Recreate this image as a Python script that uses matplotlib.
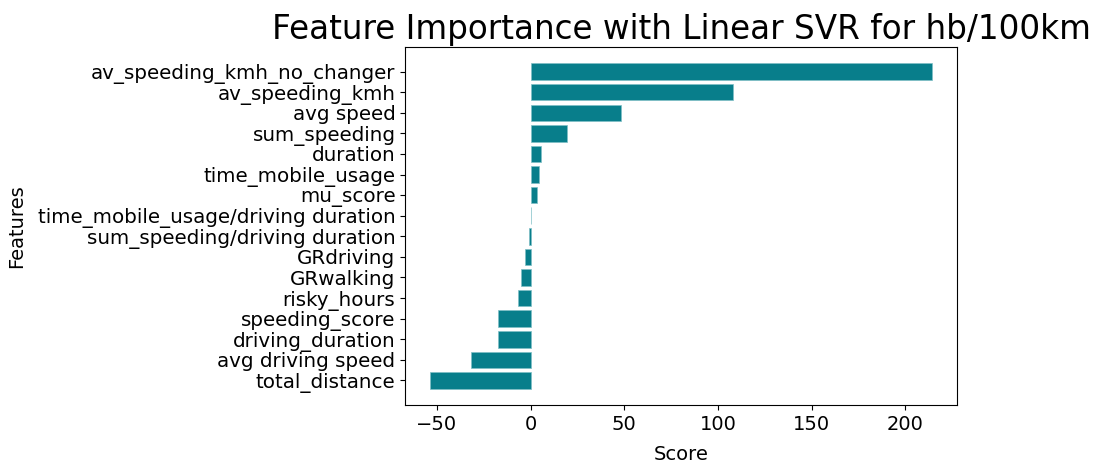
import matplotlib
matplotlib.use("Agg")
import matplotlib.pyplot as plt

features = [
    "total_distance", "avg driving speed", "driving_duration", "speeding_score",
    "risky_hours", "GRwalking", "GRdriving", "sum_speeding/driving duration",
    "time_mobile_usage/driving duration", "mu_score", "time_mobile_usage",
    "duration", "sum_speeding", "avg speed", "av_speeding_kmh",
    "av_speeding_kmh_no_changer",
]
scores = [
    -53.6, -31.6, -17.6, -17.6,
    -6.9, -5.3, -2.8, -1.0,
    0.3, 3.6, 4.3,
    5.3, 19.4, 48.4, 108.1,
    214.4,
]

fig = plt.figure(figsize=(10.98, 4.66), dpi=100)
ax = fig.add_axes([0.369, 0.131, 0.503, 0.768])
ax.barh(features, scores, color="#087E8B", edgecolor="#7fbfc6", linewidth=0.5)
ax.tick_params(axis="y", labelsize=14.3)
ax.tick_params(axis="x", labelsize=14)
ax.set_xlabel("Score", fontsize=14, labelpad=8)
ax.set_ylabel("Features", fontsize=14, labelpad=8)
ax.set_title("Feature Importance with Linear SVR for hb/100km", fontsize=23.5)
fig.savefig("out.png", dpi=100)
